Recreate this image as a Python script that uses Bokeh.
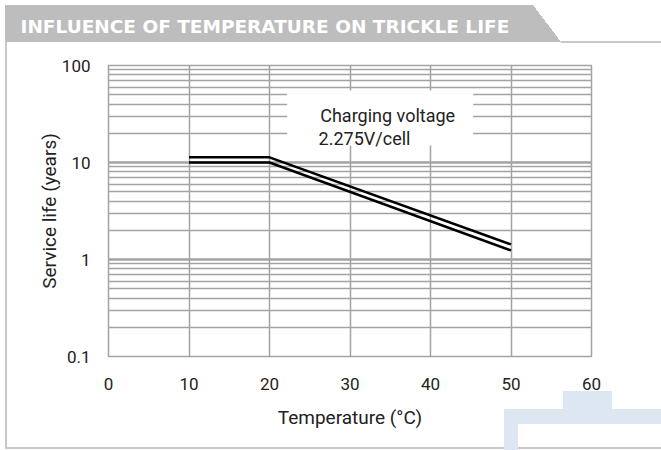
from bokeh.plotting import figure
from bokeh.models import Range1d, FixedTicker, Label, Title
from bokeh.embed import file_html
from bokeh.resources import INLINE

# ---- data ----
temps = [10, 20, 50]
life_upper = [11.3, 11.3, 1.43]
life_lower = [10.0, 10.0, 1.24]
x_ticks = [0, 10, 20, 30, 40, 50, 60]
y_ticks = [0.1, 1, 10, 100]
y_tick_labels = ["0.1", "1", "10", "100"]
title_text = "INFLUENCE OF TEMPERATURE ON TRICKLE LIFE"
note_lines = ["Charging voltage", "2.275V/cell"]
x_label = "Temperature (°C)"
y_label = "Service life (years)"

FONT = "Roboto"
GRID = "#a3a3a3"
TXT = "#222222"

W, H = 661, 450
FL, FR, FT, FB = 108, 591, 65, 356  # frame edges in canvas pixels
p = figure(width=W, height=H, output_backend="svg", toolbar_location=None, title=None,
           x_range=Range1d(0, 60), y_range=Range1d(0.1, 100), y_axis_type="log",
           min_border_left=FL, min_border_right=W - FR, min_border_top=FT, min_border_bottom=H - FB)
p.background_fill_color = "white"
p.border_fill_color = None
p.outline_line_color = GRID
p.outline_line_width = 1.5

# page decorations: title tab, frame lines and corner logo, as CSS backgrounds
def rect(color, x, y, w, h):
    return f"linear-gradient({color},{color}) {x}px {y}px / {w}px {h}px no-repeat"

BL = "#dde7f1"
LN = "#c8c8c8"
TAB = "#bdbdbd"
layers = [
    rect(BL, 563, 391, 49, 18),
    rect(BL, 504, 409, 157, 15),
    rect(BL, 504, 424, 14, 26),
    rect(LN, 5, 447, 656, 2),
    rect(LN, 5, 42, 2, 406),
    rect(LN, 561, 41, 100, 2),
    rect(TAB, 5, 5, 528.5, 37),
    f"linear-gradient(to top right, {TAB} 50%, transparent 50%) 533px 5px / 28px 37px no-repeat",
]
p.styles = {"background": ", ".join(layers)}

# spacer (closest to the frame) then the white title inside the grey tab
p.add_layout(Title(text=" ", text_font_size="1px", standoff=13), "above")
p.add_layout(Title(text=title_text, text_color="white", text_font="DejaVu Sans",
                   text_font_size="18.5px", text_font_style="bold", align="left",
                   offset=20 - FL, standoff=26, vertical_align="bottom"), "above")

minor = [m * d for d in [0.1, 1, 10] for m in range(2, 10)]
p.yaxis.ticker = FixedTicker(ticks=y_ticks, minor_ticks=minor)
p.yaxis.major_label_overrides = {t: l for t, l in zip(y_ticks, y_tick_labels)}
p.xaxis.ticker = FixedTicker(ticks=x_ticks)

for ax in (p.xaxis, p.yaxis):
    ax.axis_line_color = None
    ax.major_tick_line_color = None
    ax.minor_tick_line_color = None
    ax.major_label_text_font = FONT
    ax.major_label_text_font_size = "17px"
    ax.major_label_text_color = TXT
    ax.axis_label_text_font = FONT
    ax.axis_label_text_font_size = "19px"
    ax.axis_label_text_font_style = "normal"
    ax.axis_label_text_color = TXT
p.yaxis.major_label_standoff = 12
p.xaxis.major_label_standoff = 15
p.yaxis.axis_label = y_label
p.yaxis.axis_label_standoff = -2
p.xaxis.axis_label = x_label
p.xaxis.axis_label_standoff = 13

p.xgrid.grid_line_color = GRID
p.xgrid.grid_line_width = 1.5
p.ygrid.grid_line_color = GRID
p.ygrid.grid_line_width = 2.5
p.ygrid.minor_grid_line_color = GRID
p.ygrid.minor_grid_line_width = 1.5

# white note box over the grid
p.quad(left=[22.2], right=[45.3], bottom=[15.0], top=[55.2], fill_color="white", line_color=None)
p.add_layout(Label(x=26.3, y=30.5, text=note_lines[0], text_font=FONT, text_font_size="18px",
                   text_color=TXT, text_baseline="alphabetic"))
p.add_layout(Label(x=26.1, y=17.7, text=note_lines[1], text_font=FONT, text_font_size="18px",
                   text_color=TXT, text_baseline="alphabetic"))

p.line(temps, life_upper, line_color="black", line_width=2.5)
p.line(temps, life_lower, line_color="black", line_width=2.5)

out = file_html(p, INLINE)
open("out.html", "w").write(out)
